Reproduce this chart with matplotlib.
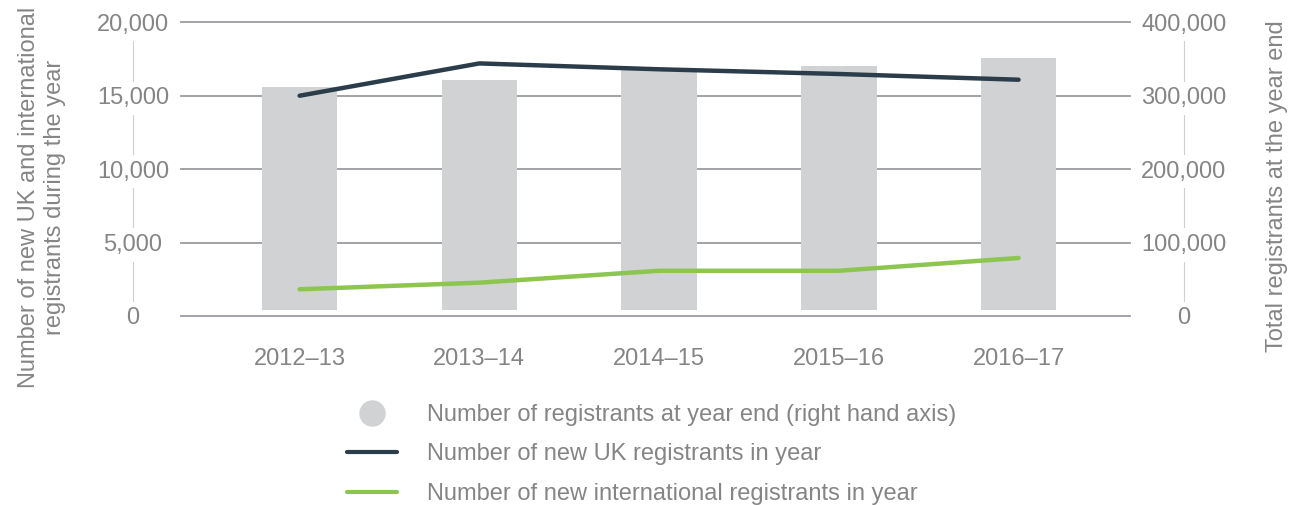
import matplotlib
matplotlib.use('Agg')
import matplotlib.pyplot as plt
from matplotlib.lines import Line2D
from matplotlib.ticker import FuncFormatter

# ── data ──────────────────────────────────────────────────────────────────────
years = ['2012–13', '2013–14', '2014–15', '2015–16', '2016–17']
total_registrants = [311900, 321400, 335000, 340500, 351400]   # right axis
new_uk = [15000, 17200, 16800, 16480, 16090]
new_international = [1820, 2270, 3080, 3080, 3950]

# ── style ─────────────────────────────────────────────────────────────────────
C_BAR = '#d1d2d4'
C_UK = '#2b3d4b'
C_INT = '#8cc64f'
C_TEXT = '#858585'
C_GRID = '#9c9ca0'
C_SPINE = '#cfcfcf'
FS = 17
BAR_BASE = 8600   # bars stop a little short of the axis line

plt.rcParams['font.family'] = ['Liberation Sans', 'DejaVu Sans']

fig = plt.figure(figsize=(13.05, 5.05), dpi=100)
ax = fig.add_axes([181 / 1305, 1 - 316 / 505, (1130 - 181) / 1305, (316 - 22.3) / 505])
ax2 = ax.twinx()

x = list(range(len(years)))

# bars + grid on right axis (drawn underneath)
ax2.bar(x, [v - BAR_BASE for v in total_registrants], 0.42, bottom=BAR_BASE,
        color=C_BAR, zorder=2)
for yv in range(0, 400001, 100000):
    ax2.axhline(yv, color=C_GRID, lw=1.3, zorder=1, clip_on=False)
ax2.set_ylim(0, 400000)

# lines on left axis, on top
ax.set_zorder(ax2.get_zorder() + 1)
ax.patch.set_visible(False)
ax.plot(x, new_uk, color=C_UK, lw=3.2, solid_capstyle='round', zorder=3)
ax.plot(x, new_international, color=C_INT, lw=3.2, solid_capstyle='round', zorder=3)
ax.set_ylim(0, 20000)
ax.set_xlim(-0.66, 4.62)

fmt = FuncFormatter(lambda v, _: f'{int(v):,}')
ax.set_yticks(range(0, 20001, 5000))
ax.yaxis.set_major_formatter(fmt)
ax2.set_yticks(range(0, 400001, 100000))
ax2.yaxis.set_major_formatter(fmt)

ax.set_xticks(x)
ax.set_xticklabels(years)
ax.tick_params(axis='x', length=0, pad=23, labelsize=FS, labelcolor=C_TEXT)

for a in (ax, ax2):
    for s in ('top', 'bottom'):
        a.spines[s].set_visible(False)
ax.spines['right'].set_visible(False)
ax2.spines['left'].set_visible(False)

# vertical axis lines sit behind the tick labels, which break them
ax.spines['left'].set_position(('outward', 48 * 0.72))
ax.spines['left'].set_color(C_SPINE)
ax.spines['left'].set_zorder(0.5)
ax2.spines['right'].set_position(('outward', 54 * 0.72))
ax2.spines['right'].set_color(C_SPINE)
ax2.spines['right'].set_zorder(0.5)

ax.tick_params(axis='y', length=0, pad=0, labelsize=FS, labelcolor=C_TEXT)
ax2.tick_params(axis='y', length=0, pad=0, labelsize=FS, labelcolor=C_TEXT)
for lab in ax.get_yticklabels() + ax2.get_yticklabels():
    lab.set_horizontalalignment('center')
    lab.set_bbox(dict(facecolor='white', edgecolor='none', pad=4))

# axis titles
fig.text(42 / 1305, 1 - 197 / 505,
         'Number of new UK and international\nregistrants during the year',
         rotation=90, ha='center', va='center', multialignment='center',
         fontsize=FS, color=C_TEXT, linespacing=1.2)
fig.text(1277 / 1305, 1 - 186 / 505, 'Total registrants at the year end',
         rotation=90, ha='center', va='center', fontsize=FS, color=C_TEXT)

# legend
handles = [
    Line2D([], [], ls='none', marker='o', ms=18, color=C_BAR),
    Line2D([], [], color=C_UK, lw=3, solid_capstyle='round'),
    Line2D([], [], color=C_INT, lw=3, solid_capstyle='round'),
]
labels = ['Number of registrants at year end (right hand axis)',
          'Number of new UK registrants in year',
          'Number of new international registrants in year']
leg = fig.legend(handles, labels, loc='upper left',
                 bbox_to_anchor=(347 / 1305, 1 - 404 / 505),
                 frameon=False, fontsize=FS, handlelength=2.12,
                 handletextpad=1.27, labelspacing=0.74, borderpad=0,
                 borderaxespad=0)
for t in leg.get_texts():
    t.set_color(C_TEXT)

fig.savefig('out.png', dpi=100)
